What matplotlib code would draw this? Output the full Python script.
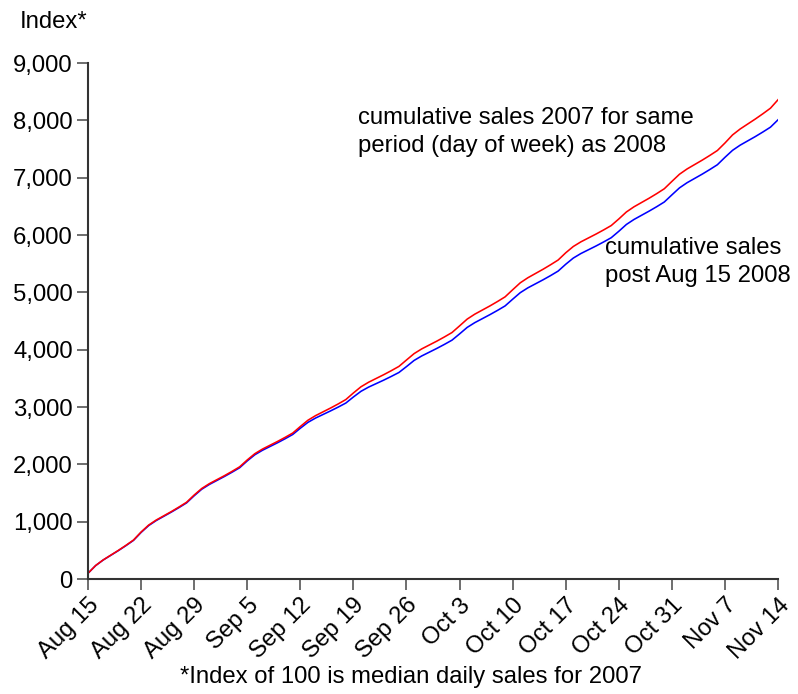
import matplotlib.pyplot as plt
import pandas as pd

# cumulative daily sales index, Aug 15 .. Nov 14 (Fri to Fri)
start_date = "2008-08-15"
end_date = "2008-11-14"

sales_2007 = [
    100,
    235, 333, 416, 499, 587, 680, 820,
    941, 1029, 1103, 1177, 1256, 1339, 1465,
    1579, 1663, 1733, 1803, 1878, 1957, 2077,
    2186, 2266, 2333, 2400, 2471, 2546, 2660,
    2769, 2849, 2916, 2983, 3054, 3130, 3245,
    3353, 3432, 3498, 3564, 3634, 3708, 3820,
    3931, 4013, 4081, 4149, 4222, 4299, 4415,
    4533, 4619, 4691, 4763, 4840, 4921, 5045,
    5166, 5254, 5328, 5402, 5481, 5564, 5690,
    5800, 5881, 5949, 6017, 6089, 6165, 6280,
    6402, 6492, 6567, 6642, 6722, 6807, 6935,
    7060, 7152, 7229, 7306, 7388, 7474, 7605,
    7746, 7849, 7936, 8023, 8115, 8212, 8360,
]

sales_2008 = [
    100,
    233, 331, 413, 495, 582, 674, 812,
    932, 1020, 1094, 1168, 1246, 1328, 1452,
    1566, 1649, 1719, 1789, 1863, 1941, 2060,
    2167, 2245, 2311, 2377, 2447, 2521, 2630,
    2732, 2807, 2870, 2933, 2999, 3069, 3175,
    3274, 3347, 3408, 3469, 3534, 3602, 3705,
    3812, 3890, 3956, 4022, 4092, 4166, 4275,
    4388, 4471, 4541, 4611, 4685, 4763, 4880,
    4994, 5078, 5148, 5218, 5292, 5371, 5490,
    5598, 5677, 5743, 5809, 5879, 5953, 6065,
    6184, 6271, 6344, 6417, 6494, 6576, 6700,
    6822, 6912, 6987, 7062, 7142, 7226, 7355,
    7477, 7567, 7642, 7717, 7797, 7881, 8010,
]

tick_labels = ["Aug 15", "Aug 22", "Aug 29", "Sep 5", "Sep 12", "Sep 19", "Sep 26",
               "Oct 3", "Oct 10", "Oct 17", "Oct 24", "Oct 31", "Nov 7", "Nov 14"]
y_ticks = [0, 1000, 2000, 3000, 4000, 5000, 6000, 7000, 8000, 9000]

plt.rcParams["font.family"] = ["Liberation Sans", "DejaVu Sans"]
FS = 17.2

dates = pd.date_range(start_date, end_date, freq="D")
tick_dates = pd.date_range(start_date, end_date, freq="7D")

fig = plt.figure(figsize=(7.98, 6.94), dpi=100)
ax = fig.add_axes([0.1103, 0.1657, 0.8647, 0.7435])

ax.plot(dates, sales_2008, color="#0000ff", lw=1.15)
ax.plot(dates, sales_2007, color="#ff0000", lw=1.15)

ax.set_xlim(dates[0], dates[-1])
ax.set_ylim(0, 9000)
ax.set_yticks(y_ticks)
ax.set_yticklabels([f"{v:,}" for v in y_ticks], fontsize=FS)
ax.set_xticks(tick_dates)
ax.set_xticklabels(tick_labels, fontsize=FS, rotation=45, ha="right",
                   rotation_mode="anchor")

for side in ["top", "right"]:
    ax.spines[side].set_visible(False)
for side in ["left", "bottom"]:
    ax.spines[side].set_linewidth(1.5)
    ax.spines[side].set_color("#333333")
ax.tick_params(direction="out", length=8, width=1.2, color="#555555", pad=3)

fig.text(20 / 798, 1 - 22 / 694, "Index*", fontsize=FS, va="center", ha="left")
fig.text(358 / 798, 1 - 132 / 694, "cumulative sales 2007 for same\nperiod (day of week) as 2008",
         fontsize=FS, va="center", ha="left", linespacing=1.4)
fig.text(605 / 798, 1 - 262 / 694, "cumulative sales\npost Aug 15 2008",
         fontsize=FS, va="center", ha="left", linespacing=1.4)
fig.text(411 / 798, 1 - 677 / 694, "*Index of 100 is median daily sales for 2007",
         fontsize=FS, va="center", ha="center")

fig.savefig("out.png", dpi=100)
